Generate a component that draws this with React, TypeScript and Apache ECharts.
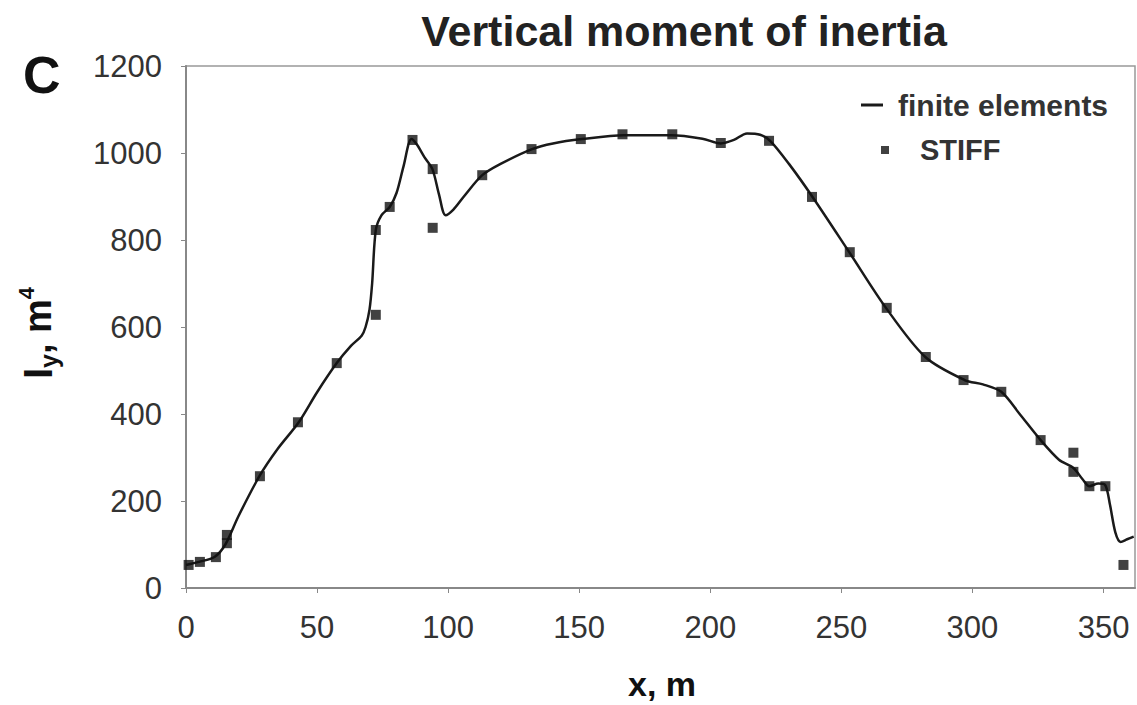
import React, { useEffect, useRef } from "react";
import * as echarts from "echarts";

// finite elements curve (x in m, Iy in m^4)
const feX = [0, 5, 11, 15, 20, 28, 35, 43, 50, 57.5, 63, 67, 68.5, 70, 71, 72.4, 74.6, 77.7, 80.3, 83, 86, 88, 91, 94, 96.5, 99, 102, 106, 113, 120, 132, 140, 151, 167, 185, 197, 204, 209, 214, 219, 223, 230, 239, 253, 267, 282, 297, 304, 311, 318, 326, 333, 338.5, 342, 344.6, 348, 350.7, 352.5, 354.5, 356.5, 359, 361.5];
const feY = [53, 60, 72, 100, 165, 257, 320, 381, 450, 517, 557, 580, 600, 640, 700, 823, 857, 876, 908, 970, 1032, 1020, 990, 963, 905, 857, 870, 900, 949, 975, 1009, 1022, 1032, 1041, 1041, 1033, 1022, 1030, 1045, 1042, 1027, 975, 899, 772, 644, 531, 478, 468, 451, 400, 340, 295, 276, 250, 234, 240, 236, 190, 128, 106, 112, 118];

// STIFF points
const stiffX = [1, 5.3, 11.4, 15.6, 15.6, 28.2, 42.7, 57.5, 72.4, 72.4, 77.7, 86.4, 94.1, 94.1, 113, 131.8, 150.6, 166.5, 185.5, 204, 222.4, 238.8, 253.2, 267.3, 282.2, 296.6, 311, 326, 338.5, 338.5, 344.6, 350.7, 357.6];
const stiffY = [53, 60, 71, 103, 122, 257, 381, 517, 628, 823, 876, 1030, 963, 828, 949, 1009, 1032, 1043, 1043, 1023, 1028, 899, 772, 644, 531, 478, 451, 340, 311, 267, 234, 234, 53];

const FONT = "'Liberation Sans', Arial, Helvetica, sans-serif";

export default function App() {
  const ref = useRef<HTMLDivElement>(null);
  useEffect(() => {
    if (!ref.current) return;
    const chart = echarts.init(ref.current, null, { renderer: "svg" });
    chart.setOption({
      animation: false,
      backgroundColor: "#ffffff",
      title: {
        text: "Vertical moment of inertia",
        left: 679,
        top: 4,
        textAlign: "center",
        textStyle: { fontFamily: FONT, fontSize: 43, fontWeight: "bold", color: "#222" },
      },
      legend: [
        {
          data: ["finite elements"],
          left: 856,
          top: 85,
          icon: "rect",
          itemWidth: 22,
          itemHeight: 3,
          textStyle: { fontFamily: FONT, fontSize: 30, fontWeight: "bold", color: "#333", lineHeight: 30, padding: [0, 0, 0, 10] },
        },
        {
          data: ["STIFF"],
          left: 876,
          top: 130,
          itemWidth: 8,
          itemHeight: 8,
          textStyle: { fontFamily: FONT, fontSize: 29, fontWeight: "bold", color: "#333", lineHeight: 30, padding: [0, 0, 0, 26] },
        },
      ],
      grid: {
        left: 186,
        top: 66,
        right: 2,
        bottom: 117,
        show: true,
        borderColor: "#999",
        borderWidth: 1.5,
        backgroundColor: "transparent",
      },
      xAxis: {
        type: "value",
        min: 0,
        max: 362,
        interval: 50,
        splitLine: { show: false },
        axisLine: { lineStyle: { color: "#888", width: 2 } },
        axisTick: { show: true, length: 5, lineStyle: { color: "#888" } },
        axisLabel: { fontFamily: FONT, fontSize: 31, color: "#333", margin: 24, showMaxLabel: false },
      },
      yAxis: {
        type: "value",
        min: 0,
        max: 1200,
        interval: 200,
        splitLine: { show: false },
        axisLine: { show: true, lineStyle: { color: "#888", width: 2 } },
        axisTick: { show: true, length: 5, lineStyle: { color: "#888" } },
        axisLabel: { fontFamily: FONT, fontSize: 31, color: "#333", margin: 24, formatter: (v: number) => String(v) },
      },
      graphic: [
        {
          type: "text",
          left: 23,
          top: 49,
          style: { text: "C", fontFamily: FONT, fontSize: 52, fontWeight: "bold", fill: "#111" },
        },
        {
          type: "text",
          x: 38,
          y: 333,
          rotation: Math.PI / 2,
          style: {
            text: "{i|I}{s|y}{n|, m}{p|4}",
            align: "center",
            verticalAlign: "middle",
            fontFamily: FONT,
            fill: "#111",
            rich: {
              i: { fontFamily: FONT, fontSize: 40, fontWeight: "bold", fill: "#111", lineHeight: 46, verticalAlign: "middle" },
              s: { fontFamily: FONT, fontSize: 25, fontWeight: "bold", fill: "#111", lineHeight: 28, verticalAlign: "bottom" },
              n: { fontFamily: FONT, fontSize: 38, fontWeight: "bold", fill: "#111", lineHeight: 46, verticalAlign: "middle" },
              p: { fontFamily: FONT, fontSize: 22, fontWeight: "bold", fill: "#111", lineHeight: 26, verticalAlign: "top" },
            },
          },
        },
        {
          type: "text",
          x: 662,
          y: 684,
          style: {
            text: "x, m",
            align: "center",
            verticalAlign: "middle",
            fontFamily: FONT,
            fontSize: 34,
            fontWeight: "bold",
            fill: "#111",
          },
        },
      ],
      series: [
        {
          name: "finite elements",
          type: "line",
          data: feX.map((x, i) => [x, feY[i]]),
          symbol: "none",
          smooth: 0.3,
          lineStyle: { color: "#1a1a1a", width: 2.5 },
          itemStyle: { color: "#1a1a1a" },
          z: 2,
        },
        {
          name: "STIFF",
          type: "scatter",
          data: stiffX.map((x, i) => [x, stiffY[i]]),
          symbol: "rect",
          symbolSize: 10,
          itemStyle: { color: "#111" },
          z: 3,
        },
      ],
    });
    return () => chart.dispose();
  }, []);
  return <div ref={ref} style={{ position: "fixed", left: 0, top: 0, width: 1137, height: 705 }} />;
}
